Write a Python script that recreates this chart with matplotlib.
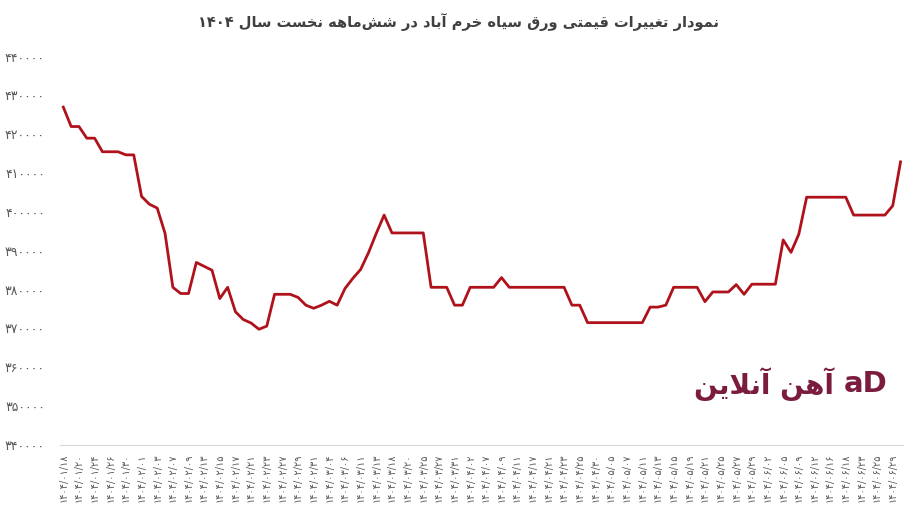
import re
import matplotlib
matplotlib.use('Agg')
import matplotlib.pyplot as plt

# dates (1404/..) shown under every second point
dates = ['01/18', '01/20', '01/24', '01/26', '01/30', '02/01', '02/03', '02/07', '02/09',
         '02/13', '02/15', '02/17', '02/21', '02/23', '02/27', '02/29', '02/31', '03/04',
         '03/06', '03/11', '03/13', '03/18', '03/20', '03/25', '03/27', '03/31', '04/02',
         '04/07', '04/09', '04/11', '04/17', '04/21', '04/23', '04/25', '04/30', '05/05',
         '05/07', '05/11', '05/13', '05/15', '05/19', '05/21', '05/25', '05/27', '05/29',
         '06/02', '06/05', '06/09', '06/12', '06/16', '06/18', '06/23', '06/25', '06/29']

prices = [427000, 422000, 422000, 419000, 419000, 415500, 415500, 415500, 414700, 414700,
          404000, 402000, 401000, 394500, 380600, 379000, 379000, 387000, 386000, 385000,
          377700, 380600, 374300, 372300, 371400, 369800, 370600, 378800, 378800, 378800,
          378000, 376000, 375200, 376000, 377000, 376000, 380300, 382900, 385200, 389500,
          394500, 399200, 394600, 394600, 394600, 394600, 394600, 380600, 380600, 380600,
          376000, 376000, 380600, 380600, 380600, 380600, 383100, 380600, 380600, 380600,
          380600, 380600, 380600, 380600, 380600, 376000, 376000, 371500, 371500, 371500,
          371500, 371500, 371500, 371500, 371500, 375500, 375500, 376000, 380600, 380600,
          380600, 380600, 376900, 379400, 379400, 379400, 381300, 378800, 381400, 381400,
          381400, 381400, 392800, 389600, 394300, 403800, 403800, 403800, 403800, 403800,
          403800, 399200, 399200, 399200, 399200, 399200, 401600, 412900]

yticks = list(range(340000, 440001, 10000))

title = 'نمودار تغییرات قیمتی ورق سیاه خرم آباد در شش\u200cماهه نخست سال ۱۴۰۴'
brand = 'آهن آنلاین'

FA_DIGITS = str.maketrans('0123456789', '۰۱۲۳۴۵۶۷۸۹')

# isolated, final, initial, medial presentation forms
FORMS = {
    'ا': ('\uFE8D', '\uFE8E', None, None),
    'آ': ('\uFE81', '\uFE82', None, None),
    'د': ('\uFEA9', '\uFEAA', None, None),
    'ر': ('\uFEAD', '\uFEAE', None, None),
    'و': ('\uFEED', '\uFEEE', None, None),
    'ب': ('\uFE8F', '\uFE90', '\uFE91', '\uFE92'),
    'ت': ('\uFE95', '\uFE96', '\uFE97', '\uFE98'),
    'خ': ('\uFEA5', '\uFEA6', '\uFEA7', '\uFEA8'),
    'س': ('\uFEB1', '\uFEB2', '\uFEB3', '\uFEB4'),
    'ش': ('\uFEB5', '\uFEB6', '\uFEB7', '\uFEB8'),
    'غ': ('\uFECD', '\uFECE', '\uFECF', '\uFED0'),
    'ق': ('\uFED5', '\uFED6', '\uFED7', '\uFED8'),
    'ل': ('\uFEDD', '\uFEDE', '\uFEDF', '\uFEE0'),
    'م': ('\uFEE1', '\uFEE2', '\uFEE3', '\uFEE4'),
    'ن': ('\uFEE5', '\uFEE6', '\uFEE7', '\uFEE8'),
    'ه': ('\uFEE9', '\uFEEA', '\uFEEB', '\uFEEC'),
    'ی': ('\uFEEF', '\uFEF0', '\uFEF3', '\uFEF4'),
}
LAM_ALEF = {'ا': ('\uFEFB', '\uFEFC'), 'آ': ('\uFEF5', '\uFEF6')}


def fa(s):
    return s.translate(FA_DIGITS)


def shape(text):
    # no text shaping in matplotlib: join letters and put them in visual order by hand
    out = []
    i = 0
    while i < len(text):
        c = text[i]
        prev = text[i - 1] if i > 0 else ''
        nxt = text[i + 1] if i + 1 < len(text) else ''
        if c not in FORMS:
            if c != '\u200c':
                out.append(c)
            i += 1
            continue
        link_prev = prev in FORMS and FORMS[prev][2] is not None
        if c == 'ل' and nxt in LAM_ALEF:
            out.append(LAM_ALEF[nxt][1 if link_prev else 0])
            i += 2
            continue
        link_next = FORMS[c][2] is not None and nxt in FORMS
        iso, fin, ini, med = FORMS[c]
        if link_prev and link_next:
            out.append(med)
        elif link_prev:
            out.append(fin)
        elif link_next:
            out.append(ini)
        else:
            out.append(iso)
        i += 1
    s = ''.join(out)[::-1]
    return re.sub(r'[0-9۰-۹]+', lambda m: m.group(0)[::-1], s)


plt.rcParams['font.family'] = ['DejaVu Sans']

fig = plt.figure(figsize=(9.16, 5.11), dpi=100)
ax = fig.add_axes([0.0657, 0.1292, 0.920, 0.760])

ax.plot(range(len(prices)), prices, color='#B0121B', lw=2.0)

ax.set_xlim(-0.4, len(prices) - 1 + 0.3)
ax.set_ylim(yticks[0], yticks[-1])
ax.set_yticks(yticks)
ax.set_yticklabels([fa(str(v)) for v in yticks], fontsize=9, color='#595959')
ax.set_xticks(range(0, len(prices), 2))
ax.set_xticklabels([fa('1404/' + d) for d in dates], rotation=90, fontsize=7, color='#595959')
ax.tick_params(axis='y', length=0, pad=11)
ax.tick_params(axis='x', length=0, pad=6)

for side in ['top', 'right', 'left']:
    ax.spines[side].set_visible(False)
ax.spines['bottom'].set_color('#D9D9D9')

fig.text(0.5, 1 - 22 / 511, shape(title), ha='center', va='center',
         fontsize=10.5, fontweight='bold', color='#404040')

# watermark
fig.text(764 / 916, 1 - 384 / 511, shape(brand), ha='center', va='center',
         fontsize=20, fontweight='bold', color='#7B1C3E')
fig.text(866 / 916, 1 - 384 / 511, 'aD', ha='center', va='center',
         fontsize=21, fontweight='bold', color='#7B1C3E')

fig.savefig('out.png', dpi=100)
